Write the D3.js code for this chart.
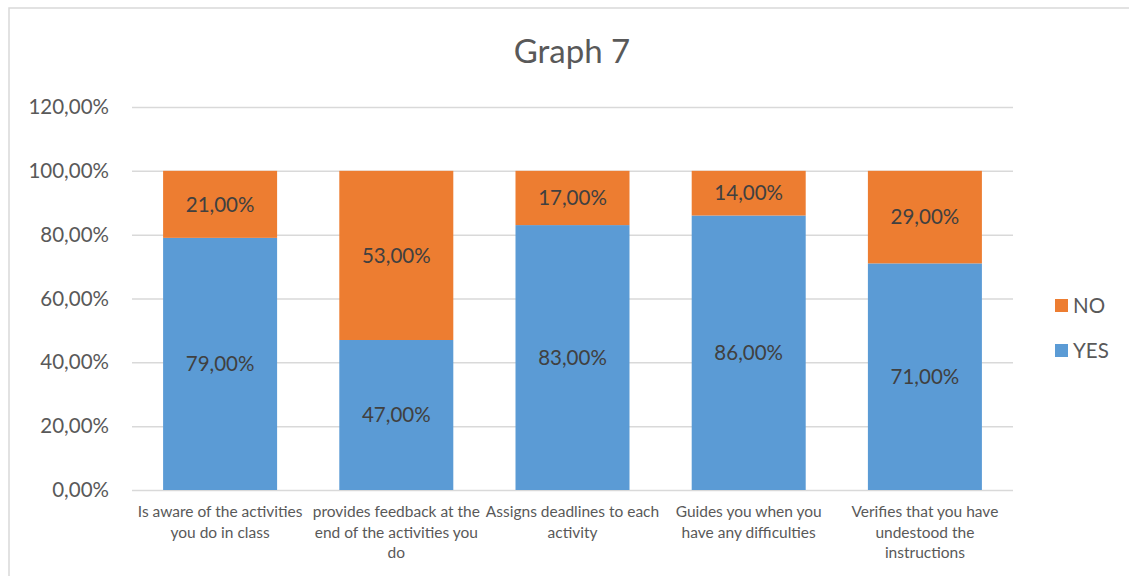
<!DOCTYPE html>
<html>
<head>
<meta charset="utf-8">
<script src="https://cdn.jsdelivr.net/npm/d3@7"></script>
<style>
  html, body { margin: 0; padding: 0; background: #fff; }
  svg { display: block; font-family: Lato, "Open Sans", sans-serif; }
</style>
</head>
<body>
<svg id="chart" width="1129" height="576"></svg>
<script>
// Survey answers per statement (share of respondents)
const categories = [
  ["Is aware of the activities", "you do in class"],
  ["provides feedback at the", "end of the activities you", "do"],
  ["Assigns deadlines to each", "activity"],
  ["Guides you when you", "have any difficulties"],
  ["Verifies that you have", "undestood the", "instructions"]
];
const yesValues = [0.79, 0.47, 0.83, 0.86, 0.71];
const noValues  = [0.21, 0.53, 0.17, 0.14, 0.29];
const yTicks = [0, 0.2, 0.4, 0.6, 0.8, 1.0, 1.2];
const seriesNames = ["YES", "NO"];
const colors = { YES: "#5B9BD5", NO: "#ED7D31" };

const svg = d3.select("#chart");
const W = 1129, H = 576;
const margin = { left: 132, right: 116, top: 107, bottom: 86 };

// chart frame
svg.append("path")
  .attr("d", `M9,${H} V8 H${W}`)
  .attr("fill", "none").attr("stroke", "#D9D9D9").attr("stroke-width", 1.5);

// title
svg.append("text")
  .attr("x", 572).attr("y", 63)
  .attr("text-anchor", "middle")
  .attr("font-size", 33).attr("fill", "#595959")
  .text("Graph 7");

const x = d3.scaleBand()
  .domain(d3.range(categories.length))
  .range([margin.left, W - margin.right])
  .paddingInner(0.353).paddingOuter(0.1765);

const y = d3.scaleLinear().domain([0, 1.2]).range([H - margin.bottom, margin.top]);

const fmt = v => d3.format(".2f")(v * 100).replace(".", ",") + "%";

// y axis with gridlines
const yAxis = d3.axisLeft(y).tickValues(yTicks).tickFormat(fmt)
  .tickSize(-(W - margin.left - margin.right)).tickPadding(23);
const gy = svg.append("g").attr("transform", `translate(${margin.left},0)`).call(yAxis);
gy.select(".domain").remove();
gy.selectAll(".tick line").attr("stroke", "#D9D9D9").attr("stroke-width", 1.5);
gy.selectAll(".tick text").attr("font-size", 20.5).attr("fill", "#595959")
  .attr("font-family", "Lato, sans-serif");

// stacked bars
const rows = categories.map((c, i) => ({ i, YES: yesValues[i], NO: noValues[i] }));
const stack = d3.stack().keys(seriesNames)(rows);

const layers = svg.append("g").selectAll("g").data(stack).join("g")
  .attr("fill", d => colors[d.key]);
layers.selectAll("rect").data(d => d).join("rect")
  .attr("x", d => x(d.data.i))
  .attr("width", x.bandwidth())
  .attr("y", d => y(d[1]))
  .attr("height", d => y(d[0]) - y(d[1]));

// values inside segments
const labels = svg.append("g");
stack.forEach(layer => {
  layer.forEach(d => {
    labels.append("text")
      .attr("x", x(d.data.i) + x.bandwidth() / 2)
      .attr("y", (y(d[0]) + y(d[1])) / 2)
      .attr("dy", "0.35em")
      .attr("text-anchor", "middle")
      .attr("font-size", 20.5).attr("fill", "#404040")
      .text(fmt(d[1] - d[0]));
  });
});

// category labels
const xl = svg.append("g");
categories.forEach((lines, i) => {
  const t = xl.append("text")
    .attr("text-anchor", "middle")
    .attr("font-size", 15.5).attr("fill", "#595959");
  lines.forEach((ln, k) => {
    t.append("tspan")
      .attr("x", x(i) + x.bandwidth() / 2)
      .attr("y", 517 + k * 20.5)
      .text(ln);
  });
});

// legend
const legend = svg.append("g");
["NO", "YES"].forEach((k, j) => {
  const ly = 306 + j * 45;
  legend.append("rect")
    .attr("x", 1055).attr("y", ly - 7).attr("width", 13).attr("height", 13)
    .attr("fill", colors[k]);
  legend.append("text")
    .attr("x", 1073).attr("y", ly).attr("dy", "0.35em")
    .attr("font-size", 20.5).attr("fill", "#595959")
    .text(k);
});
</script>
</body>
</html>
